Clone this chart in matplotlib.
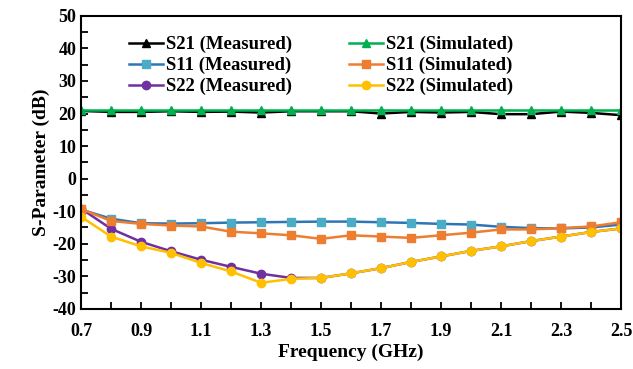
import matplotlib
matplotlib.use("Agg")
import matplotlib.pyplot as plt
from matplotlib.ticker import MultipleLocator

plt.rcParams['font.family'] = ['Liberation Serif', 'DejaVu Serif']
plt.rcParams['font.weight'] = 'bold'
plt.rcParams['axes.unicode_minus'] = False

freq = [0.7, 0.8, 0.9, 1.0, 1.1, 1.2, 1.3, 1.4, 1.5, 1.6,
        1.7, 1.8, 1.9, 2.0, 2.1, 2.2, 2.3, 2.4, 2.5]
xtick_labels = ['0.7', '0.9', '1.1', '1.3', '1.5', '1.7', '1.9', '2.1', '2.3', '2.5']

s21_meas = [20.8, 20.5, 20.5, 20.7, 20.5, 20.6, 20.3, 20.7, 20.7, 20.7,
            20.0, 20.5, 20.3, 20.5, 19.8, 19.8, 20.6, 20.2, 19.5]
s21_sim = [21.0, 21.0, 21.0, 21.0, 21.0, 21.0, 21.0, 21.0, 21.0, 21.0,
           21.0, 21.0, 21.0, 21.0, 21.0, 21.0, 21.0, 21.0, 21.0]
s11_meas = [-9.5, -12.3, -13.7, -13.8, -13.7, -13.5, -13.4, -13.3, -13.2, -13.2,
            -13.4, -13.6, -13.9, -14.1, -14.8, -15.2, -15.3, -15.0, -14.1]
s11_sim = [-9.3, -13.0, -13.9, -14.4, -14.7, -16.3, -16.8, -17.4, -18.5, -17.4,
           -17.8, -18.2, -17.4, -16.6, -15.6, -15.6, -15.2, -14.7, -13.4]
s22_meas = [-9.2, -15.4, -19.4, -22.3, -24.9, -27.1, -29.2, -30.5, -30.5, -29.1,
            -27.5, -25.6, -23.9, -22.2, -20.8, -19.2, -17.8, -16.4, -15.3]
s22_sim = [-11.7, -17.8, -20.8, -22.8, -25.9, -28.5, -32.0, -30.8, -30.5, -29.1,
           -27.5, -25.6, -23.9, -22.2, -20.8, -19.2, -17.8, -16.4, -15.3]

fig = plt.figure(figsize=(6.33, 3.69), dpi=100)
ax = fig.add_axes([0.128, 0.163, 0.853, 0.794])

ms = 6
lw = 1.8
ax.plot(freq, s21_meas, color='black', marker='^', ms=ms, lw=lw, label='S21 (Measured)')
ax.plot(freq, s11_meas, color='#2E75B6', marker='s', ms=ms, mfc='#4BACC6', mec='#4BACC6', lw=lw, label='S11 (Measured)')
ax.plot(freq, s22_meas, color='#7030A0', marker='o', ms=ms, lw=lw, label='S22 (Measured)')
ax.plot(freq, s21_sim, color='#00B050', marker='^', ms=ms, lw=lw, label='S21 (Simulated)')
ax.plot(freq, s11_sim, color='#ED7D31', marker='s', ms=ms, lw=lw, label='S11 (Simulated)')
ax.plot(freq, s22_sim, color='#FFC000', marker='o', ms=ms, lw=lw, label='S22 (Simulated)')

ax.set_xlim(0.7, 2.5)
ax.set_ylim(-40, 50)
ax.set_xticks([float(t) for t in xtick_labels])
ax.set_xticklabels(xtick_labels)
ax.set_xticks(freq, minor=True)
ax.yaxis.set_major_locator(MultipleLocator(10))
ax.yaxis.set_minor_locator(MultipleLocator(5))
ax.tick_params(which='both', direction='in', labelsize=13, width=1.3)
ax.tick_params(which='major', length=5)
ax.tick_params(axis='x', which='major', pad=10)
ax.tick_params(which='minor', length=5)
for sp in ax.spines.values():
    sp.set_linewidth(1.5)

ax.set_xlabel('Frequency (GHz)', fontsize=14, fontweight='bold', labelpad=3)
ax.set_ylabel('S-Parameter (dB)', fontsize=14, fontweight='bold', labelpad=2)

ax.legend(ncol=2, loc='upper center', bbox_to_anchor=(0.445, 0.97), frameon=False,
          fontsize=13.5, handlelength=1.8, handletextpad=0.2, columnspacing=3.0,
          labelspacing=0.2, borderaxespad=0.2)

fig.savefig('out.png', dpi=100)
